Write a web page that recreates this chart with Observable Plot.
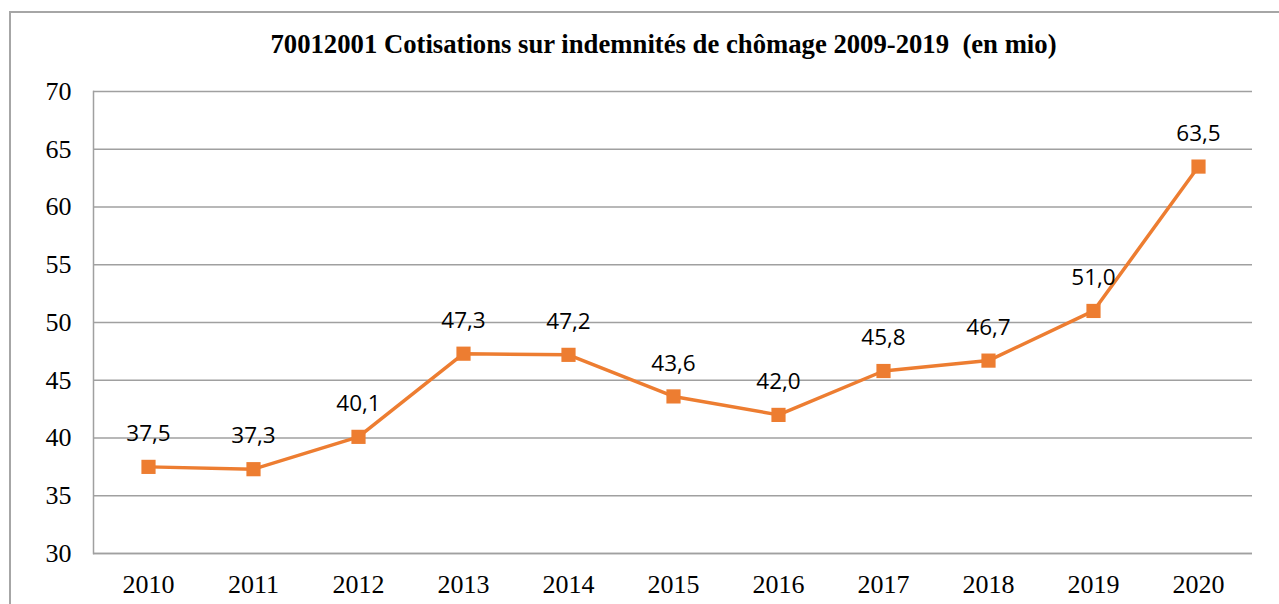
<!DOCTYPE html>
<html>
<head>
<meta charset="utf-8">
<script src="https://cdn.jsdelivr.net/npm/d3@7"></script>
<script src="https://cdn.jsdelivr.net/npm/@observablehq/plot@0.6"></script>
</head>
<body style="margin:0;padding:0;background:#fff;overflow:hidden;width:1279px;height:604px;">
<div id="wrap" style="position:relative;width:1279px;height:604px;overflow:hidden;">
  <div id="frame" style="position:absolute;left:9px;top:11px;width:1290px;height:620px;border:2px solid #a6a6a6;box-sizing:border-box;"></div>
  <div id="chart" style="position:absolute;left:0;top:0;"></div>
  <div id="title" style="position:absolute;left:0;width:1327px;top:29px;text-align:center;font-family:'Liberation Serif','Times New Roman',serif;font-weight:bold;font-size:26.7px;line-height:normal;color:#000;white-space:pre;">70012001 Cotisations sur indemnités de chômage 2009-2019  (en mio)</div>
</div>
<script>
const years = ["2010","2011","2012","2013","2014","2015","2016","2017","2018","2019","2020"];
const values = [37.5, 37.3, 40.1, 47.3, 47.2, 43.6, 42.0, 45.8, 46.7, 51.0, 63.5];
const yTicks = [30, 35, 40, 45, 50, 55, 60, 65, 70];
const data = years.map((y, i) => ({year: y, value: values[i]}));
const fmt = v => v.toFixed(1).replace(".", ",");
const orange = "#ed7d31";

const chart = Plot.plot({
  width: 1279,
  height: 604,
  marginLeft: 93,
  marginRight: 27,
  marginTop: 91,
  marginBottom: 51,
  style: {background: "transparent", overflow: "visible", fontFamily: "Liberation Serif", fontSize: "26px"},
  x: {type: "point", domain: years, padding: 0.5},
  y: {domain: [30, 70]},
  marks: [
    Plot.gridY(yTicks, {stroke: "#a0a0a0", strokeOpacity: 1, strokeWidth: 1.5}),
    Plot.ruleY([30], {stroke: "#a0a0a0", strokeWidth: 1.5}),
    Plot.frame({anchor: "left", stroke: "#a0a0a0", strokeWidth: 1.5}),
    Plot.axisY(yTicks, {tickSize: 0, tickPadding: 22, fontSize: 26, fontFamily: "Liberation Serif", fill: "#000", label: null}),
    Plot.axisX({tickSize: 0, tickPadding: 21, fontSize: 26, fontFamily: "Liberation Serif", fill: "#000", label: null}),
    Plot.line(data, {x: "year", y: "value", stroke: orange, strokeWidth: 3.5}),
    Plot.dot(data, {x: "year", y: "value", symbol: "square", fill: orange, r: 8, stroke: "none"}),
    Plot.text(data, {x: "year", y: "value", text: d => fmt(d.value), dy: -33, fontSize: 22.5, fontFamily: "Open Sans", fill: "#000"})
  ]
});
document.getElementById("chart").appendChild(chart);
</script>
</body>
</html>
